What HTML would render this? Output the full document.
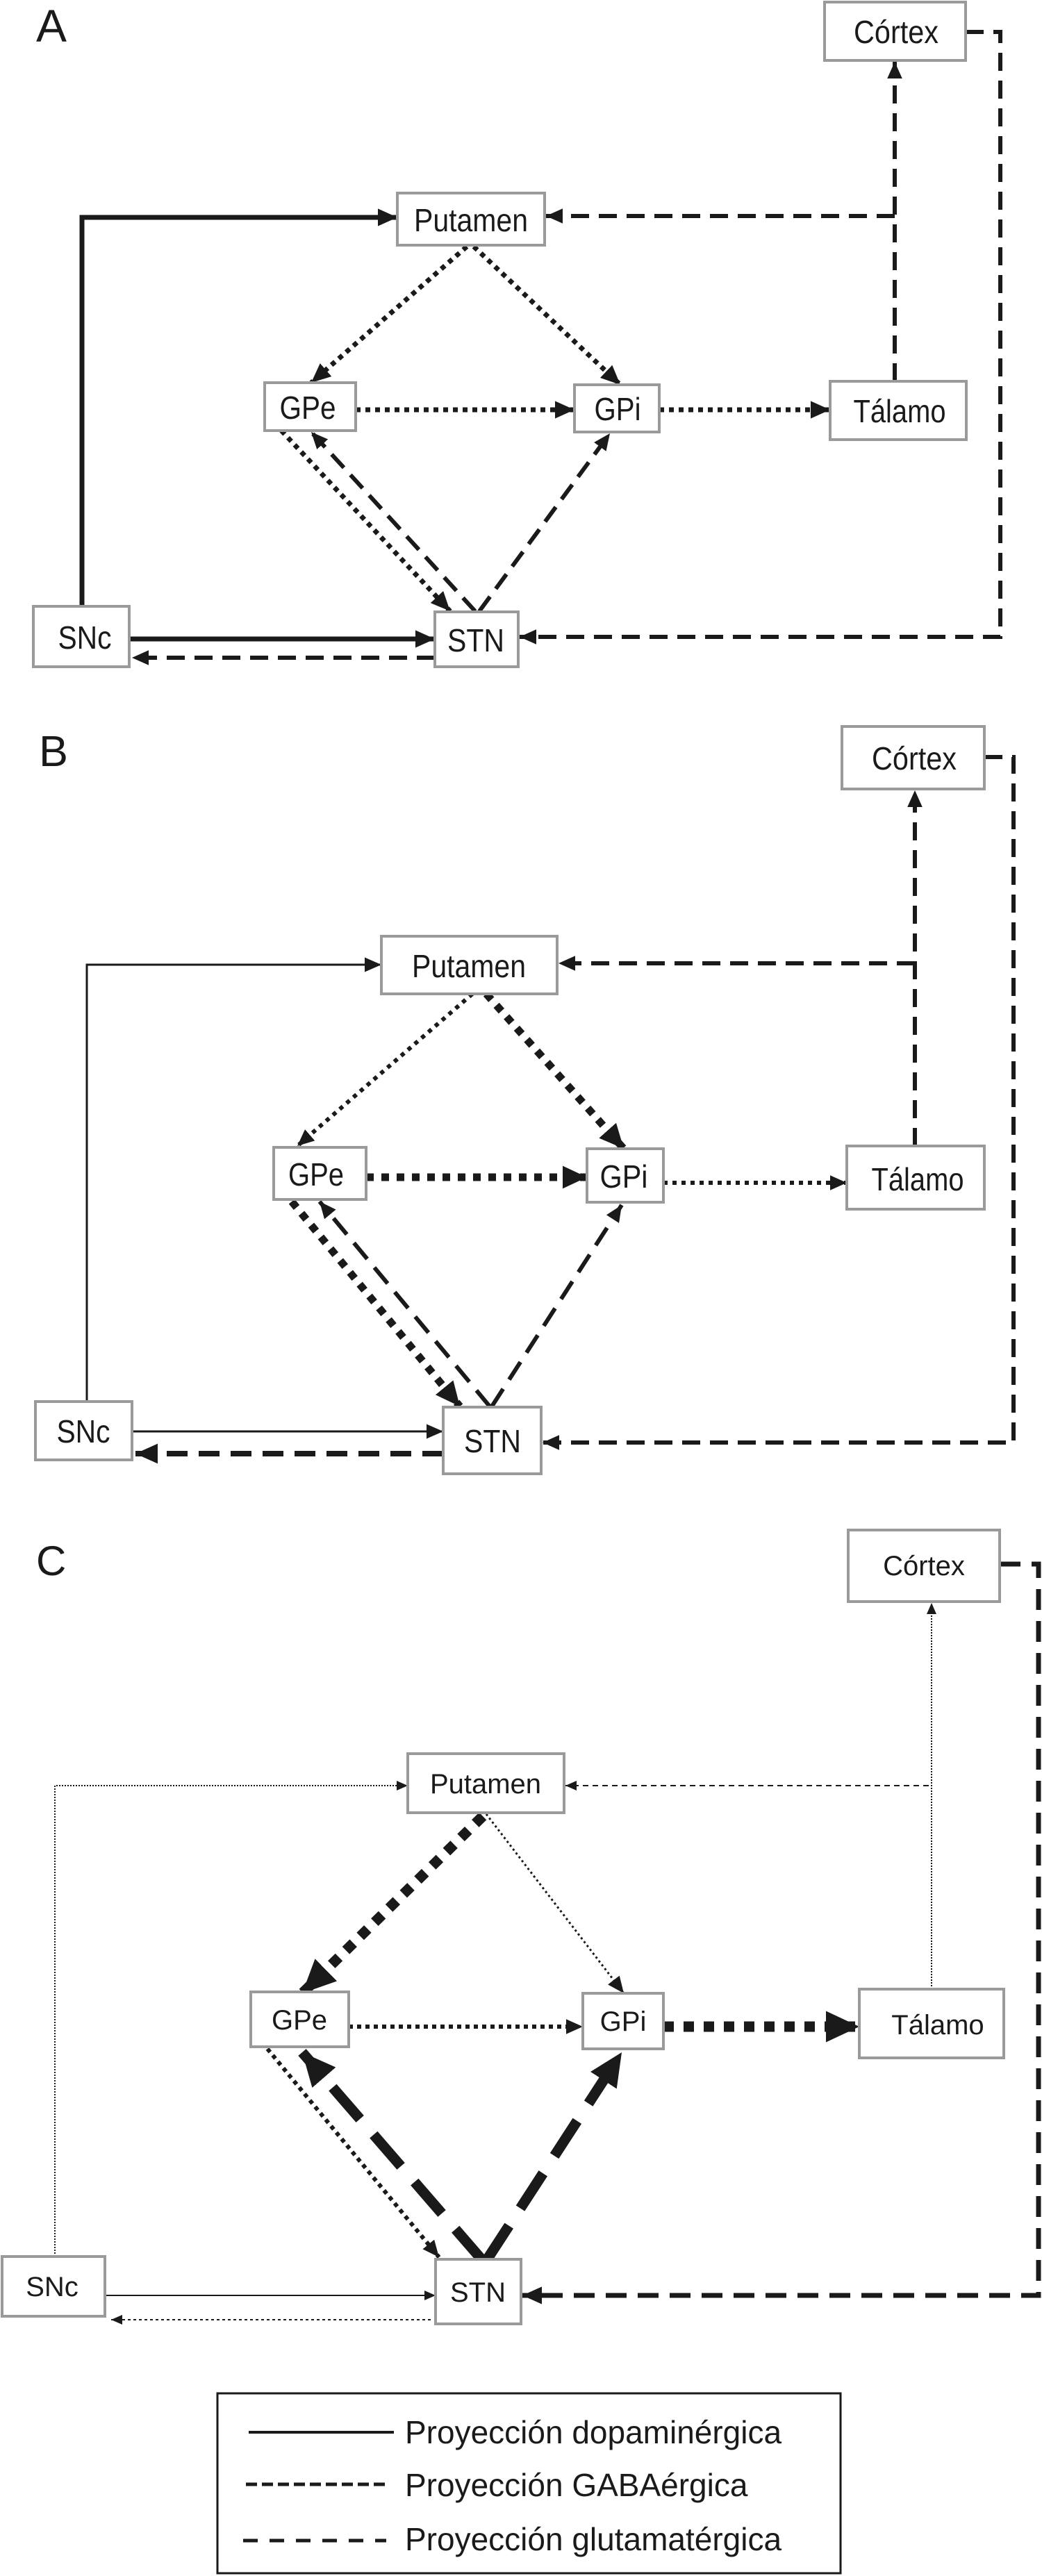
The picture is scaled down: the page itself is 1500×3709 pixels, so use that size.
<!DOCTYPE html>
<html><head><meta charset="utf-8"><style>
html,body{margin:0;padding:0;background:#fff;}
svg{display:block;}
.n{fill:#fff;stroke:#9a9a9a;stroke-width:4;}
.tn{font-family:"Liberation Sans",sans-serif;font-size:46px;fill:#1a1a1a;text-anchor:middle;}
.tc{font-family:"Liberation Sans",sans-serif;font-size:40px;fill:#1a1a1a;text-anchor:middle;}
.L{fill:none;stroke:#1a1a1a;stroke-linecap:butt;}
</style></head><body>
<svg width="1500" height="3709" viewBox="0 0 1500 3709" xmlns="http://www.w3.org/2000/svg">
<defs>
<marker id="a" viewBox="0 0 10 10" refX="10" refY="5" markerWidth="4" markerHeight="3.6" markerUnits="strokeWidth" orient="auto" preserveAspectRatio="none"><path d="M0,0L10,5L0,10z" fill="#1a1a1a"/></marker>
<marker id="b" viewBox="0 0 10 10" refX="10" refY="5" markerWidth="8" markerHeight="7" markerUnits="strokeWidth" orient="auto" preserveAspectRatio="none"><path d="M0,0L10,5L0,10z" fill="#1a1a1a"/></marker>
<marker id="c" viewBox="0 0 10 10" refX="10" refY="5" markerWidth="3.2" markerHeight="3" markerUnits="strokeWidth" orient="auto" preserveAspectRatio="none"><path d="M0,0L10,5L0,10z" fill="#1a1a1a"/></marker>
</defs>

<!-- ===== PANEL A ===== -->
<text x="52" y="60" textLength="44" lengthAdjust="spacingAndGlyphs" style="font-family:'Liberation Sans',sans-serif;font-size:66px;fill:#1a1a1a">A</text>
<g>
<path class="L" d="M118,873 V313 H572" stroke-width="7" marker-end="url(#a)"/>
<path class="L" d="M186,920 H626" stroke-width="7" marker-end="url(#a)"/>
<path class="L" d="M626,947 H190" stroke-width="6" stroke-dasharray="26,14" marker-end="url(#a)"/>
<path class="L" d="M1288,311 H786" stroke-width="6" stroke-dasharray="26,14" marker-end="url(#a)"/>
<path class="L" d="M1288,549 V89" stroke-width="6" stroke-dasharray="26,14" marker-end="url(#a)"/>
<path class="L" d="M1390,46 H1440 V917 H748" stroke-width="6" stroke-dasharray="26,14" marker-end="url(#a)"/>
<path class="L" d="M672,355 L448,551" stroke-width="7" stroke-dasharray="7,7" marker-end="url(#a)"/>
<path class="L" d="M682,355 L893,554" stroke-width="7" stroke-dasharray="7,7" marker-end="url(#a)"/>
<path class="L" d="M512,590 H827" stroke-width="7" stroke-dasharray="7,7" marker-end="url(#a)"/>
<path class="L" d="M949,590 H1195" stroke-width="7" stroke-dasharray="7,7" marker-end="url(#a)"/>
<path class="L" d="M405,620 L648,880" stroke-width="7" stroke-dasharray="7,7" marker-end="url(#a)"/>
<path class="L" d="M684,880 L448,622" stroke-width="6" stroke-dasharray="26,14" marker-end="url(#a)"/>
<path class="L" d="M690,880 L878,624" stroke-width="6" stroke-dasharray="26,14" marker-end="url(#a)"/>
</g>
<rect class="n" x="1187" y="3" width="203" height="84"/><text class="tn" x="1290" y="62" textLength="122" lengthAdjust="spacingAndGlyphs">Córtex</text>
<rect class="n" x="572" y="278" width="212" height="75"/><text class="tn" x="678" y="333" textLength="164" lengthAdjust="spacingAndGlyphs">Putamen</text>
<rect class="n" x="381" y="551" width="131" height="69"/><text class="tn" x="443" y="603" textLength="81" lengthAdjust="spacingAndGlyphs">GPe</text>
<rect class="n" x="827" y="554" width="122" height="68"/><text class="tn" x="889" y="605" textLength="67" lengthAdjust="spacingAndGlyphs">GPi</text>
<rect class="n" x="1195" y="549" width="196" height="84"/><text class="tn" x="1295" y="608" textLength="133" lengthAdjust="spacingAndGlyphs">Tálamo</text>
<rect class="n" x="48" y="873" width="138" height="87"/><text class="tn" x="122" y="934" textLength="77" lengthAdjust="spacingAndGlyphs">SNc</text>
<rect class="n" x="626" y="881" width="120" height="79"/><text class="tn" x="685" y="938" textLength="82" lengthAdjust="spacingAndGlyphs">STN</text>

<!-- ===== PANEL B ===== -->
<text x="56" y="1103" textLength="42" lengthAdjust="spacingAndGlyphs" style="font-family:'Liberation Sans',sans-serif;font-size:62px;fill:#1a1a1a">B</text>
<g>
<path class="L" d="M125,2018 V1389 H549" stroke-width="3" marker-end="url(#b)"/>
<path class="L" d="M190,2061 H638" stroke-width="3" marker-end="url(#b)"/>
<path class="L" d="M638,2093 H195" stroke-width="8" stroke-dasharray="30,16" marker-end="url(#a)"/>
<path class="L" d="M1317,1387 H804" stroke-width="6" stroke-dasharray="26,14" marker-end="url(#a)"/>
<path class="L" d="M1317,1650 V1138" stroke-width="6" stroke-dasharray="26,14" marker-end="url(#a)"/>
<path class="L" d="M1417,1090 H1459 V2077 H781" stroke-width="6" stroke-dasharray="26,14" marker-end="url(#a)"/>
<path class="L" d="M680,1431 L428,1650" stroke-width="6" stroke-dasharray="6,7" marker-end="url(#a)"/>
<path class="L" d="M700,1431 L898,1654" stroke-width="11" stroke-dasharray="11,11" marker-end="url(#c)"/>
<path class="L" d="M527,1695 H845" stroke-width="11" stroke-dasharray="11,11" marker-end="url(#c)"/>
<path class="L" d="M955,1703 H1219" stroke-width="6" stroke-dasharray="6,7" marker-end="url(#a)"/>
<path class="L" d="M420,1730 L662,2025" stroke-width="11" stroke-dasharray="11,11" marker-end="url(#c)"/>
<path class="L" d="M705,2025 L460,1730" stroke-width="6" stroke-dasharray="30,16" marker-end="url(#a)"/>
<path class="L" d="M708,2025 L895,1735" stroke-width="6" stroke-dasharray="30,16" marker-end="url(#a)"/>
</g>
<rect class="n" x="1212" y="1046" width="205" height="90"/><text class="tn" x="1316" y="1108" textLength="122" lengthAdjust="spacingAndGlyphs">Córtex</text>
<rect class="n" x="549" y="1348" width="253" height="83"/><text class="tn" x="675" y="1407" textLength="164" lengthAdjust="spacingAndGlyphs">Putamen</text>
<rect class="n" x="394" y="1652" width="133" height="75"/><text class="tn" x="455" y="1707" textLength="80" lengthAdjust="spacingAndGlyphs">GPe</text>
<rect class="n" x="845" y="1654" width="110" height="77"/><text class="tn" x="898" y="1710" textLength="69" lengthAdjust="spacingAndGlyphs">GPi</text>
<rect class="n" x="1219" y="1650" width="198" height="91"/><text class="tn" x="1321" y="1714" textLength="133" lengthAdjust="spacingAndGlyphs">Tálamo</text>
<rect class="n" x="51" y="2018" width="139" height="84"/><text class="tn" x="120" y="2077" textLength="77" lengthAdjust="spacingAndGlyphs">SNc</text>
<rect class="n" x="638" y="2026" width="141" height="96"/><text class="tn" x="709" y="2091" textLength="82" lengthAdjust="spacingAndGlyphs">STN</text>

<!-- ===== PANEL C ===== -->
<text x="52" y="2268" style="font-family:'Liberation Sans',sans-serif;font-size:60px;fill:#1a1a1a">C</text>
<g>
<path class="L" d="M79,3249 V2571 H587" stroke-width="2" stroke="#777" stroke-dasharray="2,2" marker-end="url(#b)"/>
<path class="L" d="M151,3305 H627" stroke-width="2" marker-end="url(#b)"/>
<path class="L" d="M620,3340 H160" stroke-width="2" stroke-dasharray="4,4" marker-end="url(#b)"/>
<path class="L" d="M1337,2571 H814" stroke-width="2" stroke-dasharray="8,6" marker-end="url(#b)"/>
<path class="L" d="M1341,2864 V2308" stroke-width="2" stroke-dasharray="2,2" marker-end="url(#b)"/>
<path class="L" d="M1439,2252 H1495 V3305 H752" stroke-width="7" stroke-dasharray="30,16" marker-end="url(#a)"/>
<path class="L" d="M695,2615 L435,2870" stroke-width="15" stroke-dasharray="15,14" marker-end="url(#c)"/>
<path class="L" d="M700,2612 L898,2870" stroke-width="3" stroke-dasharray="3,4" marker-end="url(#b)"/>
<path class="L" d="M502,2918 H839" stroke-width="6" stroke-dasharray="6,6" marker-end="url(#a)"/>
<path class="L" d="M955,2918 H1237" stroke-width="15" stroke-dasharray="15,14" marker-end="url(#c)"/>
<path class="L" d="M385,2950 L632,3250" stroke-width="6" stroke-dasharray="6,6" marker-end="url(#a)"/>
<path class="L" d="M695,3255 L435,2955" stroke-width="15" stroke-dasharray="60,30" marker-end="url(#c)"/>
<path class="L" d="M700,3255 L895,2955" stroke-width="15" stroke-dasharray="60,30" marker-end="url(#c)"/>
</g>
<rect class="n" x="1221" y="2203" width="218" height="103"/><text class="tc" x="1330" y="2268">Córtex</text>
<rect class="n" x="587" y="2525" width="225" height="85"/><text class="tc" x="699" y="2582">Putamen</text>
<rect class="n" x="361" y="2868" width="141" height="79"/><text class="tc" x="431" y="2922">GPe</text>
<rect class="n" x="839" y="2870" width="116" height="80"/><text class="tc" x="897" y="2924">GPi</text>
<rect class="n" x="1237" y="2864" width="208" height="99"/><text class="tc" x="1350" y="2929">Tálamo</text>
<rect class="n" x="3" y="3249" width="148" height="86"/><text class="tc" x="75" y="3306">SNc</text>
<rect class="n" x="627" y="3253" width="123" height="93"/><text class="tc" x="688" y="3314">STN</text>

<!-- Legend -->
<rect x="313" y="3446" width="897" height="259" fill="#fff" stroke="#1a1a1a" stroke-width="3"/>
<line x1="358" y1="3502" x2="567" y2="3502" stroke="#1a1a1a" stroke-width="4"/>
<line x1="354" y1="3577" x2="556" y2="3577" stroke="#1a1a1a" stroke-width="5" stroke-dasharray="16,7"/>
<line x1="350" y1="3658" x2="556" y2="3658" stroke="#1a1a1a" stroke-width="5" stroke-dasharray="21,17"/>
<g style="font-family:'Liberation Sans',sans-serif;font-size:46px;fill:#1a1a1a">
<text x="583" y="3518">Proyección dopaminérgica</text>
<text x="583" y="3594">Proyección GABAérgica</text>
<text x="583" y="3672">Proyección glutamatérgica</text>
</g>
</svg>
</body></html>
